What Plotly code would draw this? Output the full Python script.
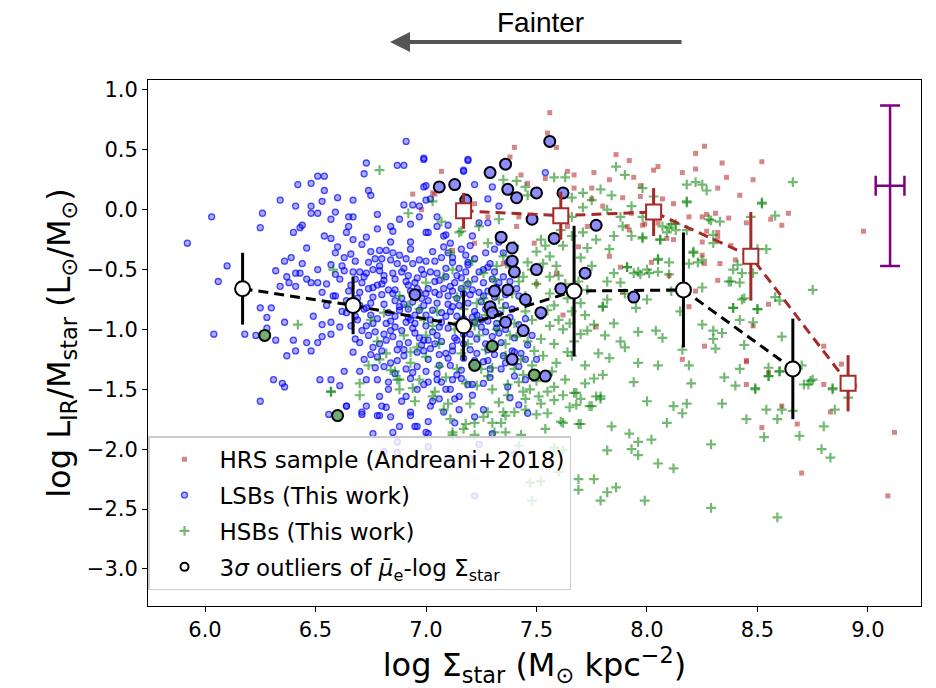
import plotly.graph_objects as go

# ---------------- data ----------------
hrs_pts = [
(7.56,0.81),(7.55,0.64),(7.59,0.52),(7.40,0.52),(7.38,0.44),(7.07,0.32),(7.43,0.29),(7.54,0.26),
(7.64,0.32),(7.67,0.29),(7.76,0.31),(7.83,0.25),(7.92,0.41),(7.94,0.27),(8.03,0.33),(8.05,0.36),
(8.16,0.31),(8.22,0.47),(8.26,0.53),(8.22,0.34),(8.34,0.39),(8.36,0.27),(8.32,0.18),(8.48,0.25),
(7.22,0.05),(7.28,-0.06),(7.46,0.22),(7.67,0.18),(7.75,0.18),(7.75,0.09),(7.89,0.10),(7.97,0.20),
(7.97,0.11),(7.80,0.03),(7.93,-0.03),(7.99,-0.12),(8.05,-0.11),(8.19,-0.06),(8.25,-0.06),(8.27,-0.04),
(8.31,-0.03),(8.37,-0.07),(8.32,-0.19),(8.25,-0.38),(8.26,-0.45),(8.33,-0.45),(8.45,-0.11),(8.32,-0.59),
(8.19,-0.81),(7.22,-0.28),(7.12,-0.34),(7.49,-0.28),(7.41,-0.14),(7.42,-0.06),(7.69,-0.31),(7.73,-0.14),
(7.91,-0.14),(7.88,-0.48),(8.02,-0.44),(7.59,-0.53),(7.64,-0.14),(7.62,-0.88),(7.83,-0.39),(8.07,0.09),
(8.64,-0.03),(8.61,-0.13),(8.27,-0.18),(8.32,-0.23),(8.25,-0.27),(8.09,-0.24),(8.12,-0.25),(8.40,-0.42),
(8.22,-0.68),(7.89,-0.69),(7.98,-0.13),(7.92,-0.17),(8.98,-0.18),(8.55,-0.79),(8.48,-0.97),(8.80,-1.14),
(8.45,-1.27),(8.55,-1.36),(8.80,-1.46),(8.88,-1.29),(8.94,-1.47),(7.77,-0.98),(8.26,-1.14),(8.16,-1.25),
(8.45,-1.26),(8.45,-1.46),(8.61,-1.64),(8.83,-1.69),(8.52,-1.82),(8.68,-1.79),(8.70,-2.20),(9.09,-2.39),
(9.12,-1.86),(6.94,0.13),(7.04,0.13),(6.98,0.00),(7.03,0.14),(8.52,0.40),(8.42,0.12),(7.35,-0.45),
(7.50,-0.62),(8.10,-0.55),(8.38,-0.30),(8.56,-0.08),(7.86,0.46),(8.12,0.05),
]

lsb_pts = [
# sparse envelope
(5.92,-0.28),(6.03,-0.06),(6.10,-0.47),(6.06,-0.60),(6.26,-0.03),(6.25,-0.15),(6.34,0.08),(6.42,0.21),
(6.48,0.22),(6.51,0.28),(6.54,0.28),(6.54,0.16),(6.53,0.07),(6.41,0.03),(6.48,0.03),(6.48,-0.03),
(6.51,-0.03),(6.43,-0.15),(6.44,-0.13),(6.40,-0.19),(6.60,0.10),(6.59,-0.02),(6.57,-0.08),(6.65,-0.06),
(6.67,-0.06),(6.67,0.08),(6.74,0.16),(6.75,0.12),(6.72,0.30),(6.73,0.39),(6.87,0.37),(6.90,0.37),
(6.99,0.42),(6.91,0.57),(6.54,-0.22),(6.57,-0.24),(6.64,-0.19),(6.65,-0.14),(6.67,-0.25),(6.73,-0.23),
(6.78,-0.04),(6.78,-0.16),(6.84,-0.14),(6.85,-0.18),(6.88,-0.08),(6.93,-0.12),(6.90,0.04),(6.94,0.04),
(6.97,-0.06),(6.97,0.03),(7.00,0.08),(6.99,0.19),(7.02,0.09),(7.01,-0.19),(6.84,-0.27),(6.93,-0.33),
(6.79,-0.34),(6.59,-0.36),(6.46,-0.32),(6.39,-0.40),(6.36,-0.43),(6.44,-0.45),(6.32,-0.51),(6.41,-0.53),
(6.43,-0.53),(6.37,-0.56),(6.46,-0.58),(6.34,-0.64),(6.38,-0.61),(6.41,-0.64),(6.48,-0.61),(6.51,-0.50),
(6.51,-0.61),(6.55,-0.62),(6.25,-0.82),(6.30,-0.82),(6.59,-0.72),(6.53,-0.69),
(6.04,-1.04),(6.18,-1.04),(6.23,-1.05),(6.28,-0.99),(6.28,-0.90),(6.32,-1.09),(6.36,-0.94),(6.40,-1.09),
(6.37,-1.22),(6.41,-1.18),(6.31,-1.42),(6.35,-1.45),(6.36,-1.48),(6.25,-1.60),(6.46,-1.11),(6.48,-1.18),
(6.51,-1.11),(6.52,-1.42),(6.57,-1.42),(6.61,-1.47),(6.56,-1.71),(6.49,-0.89),(6.53,-0.96),(6.57,-0.94),
(6.57,-1.04),(6.53,-1.06),(6.63,-1.35),(6.64,-1.64),(6.70,-1.35),(6.73,-1.42),(6.71,-1.69),(6.73,-1.64),
(6.78,-1.42),(6.79,-1.56),(6.79,-1.72),(6.82,-1.65),(6.85,-1.86),(6.83,-1.50),(6.91,-1.56),(6.95,-1.81),
(6.93,-1.72),(7.00,-1.86),(7.01,-1.77),
(7.17,0.33),(7.19,0.42),(6.99,0.43),(7.00,0.20),(7.05,-0.06),(7.09,-0.21),(7.00,-0.19),(7.05,-0.14),
(7.19,0.41),(7.17,0.32),(7.54,0.31),(7.30,0.19),(7.28,0.09),(7.33,0.03),(7.22,0.21),(7.10,-0.13),
(7.21,-0.22),(7.24,-0.11),(7.28,-0.11),(7.35,-0.36),(7.31,-0.33),(7.28,-0.48),(7.18,-0.38),(7.08,-0.22),
(7.11,-0.28),(7.12,-0.44),(7.19,-0.44),(7.26,-0.50),
(6.76,-1.87),(7.01,-1.87),(6.84,-1.73),(6.88,-1.81),(6.96,-1.81),(6.93,-1.69),(6.71,-1.71),(6.64,-1.64),
(6.78,-1.72),(6.80,-1.64),(7.02,-1.64),(7.06,-1.58),(7.13,-1.78),(7.09,-1.50),(7.15,-1.56),(7.19,-1.46),
(7.12,-1.42),(7.05,-1.42),(6.99,-1.46),(6.81,-2.02),(6.87,-2.03),(7.01,-1.98),(7.10,-2.09),(7.20,-2.08),
(7.22,-2.39),(6.87,-1.94),(7.30,-1.87),(7.40,-2.04),(7.24,-1.96),(7.13,-1.58),(7.15,-1.67),(7.38,-1.57),
(7.42,-1.63),(7.46,-1.70),(7.22,-1.73),(7.08,-1.69),(7.26,-1.67),(7.40,-1.39),(7.45,-1.25),(7.52,-0.89),
(7.39,-1.18),
# dense core
(6.60,-0.31),(6.66,-0.37),(6.71,-0.29),(6.77,-0.41),(6.82,-0.34),(6.88,-0.38),(6.93,-0.27),(6.97,-0.42),
(7.03,-0.35),(7.08,-0.31),(7.12,-0.40),(7.16,-0.33),(7.22,-0.41),(7.27,-0.36),(7.33,-0.27),(6.57,-0.46),
(6.63,-0.51),(6.68,-0.43),(6.73,-0.53),(6.79,-0.47),(6.84,-0.42),(6.89,-0.52),(6.94,-0.45),(6.99,-0.54),
(7.04,-0.43),(7.09,-0.49),(7.14,-0.55),(7.19,-0.46),(7.24,-0.52),(7.29,-0.45),(7.35,-0.56),(6.61,-0.58),
(6.66,-0.63),(6.72,-0.56),(6.76,-0.65),(6.81,-0.59),(6.86,-0.67),(6.91,-0.60),(6.96,-0.57),(7.01,-0.66),
(7.06,-0.59),(7.11,-0.64),(7.16,-0.57),(7.21,-0.67),(7.26,-0.61),(7.32,-0.65),(7.38,-0.60),(6.58,-0.72),
(6.64,-0.76),(6.70,-0.69),(6.75,-0.78),(6.80,-0.71),(6.85,-0.70),(6.90,-0.79),(6.95,-0.73),(7.00,-0.70),
(7.05,-0.78),(7.10,-0.72),(7.15,-0.80),(7.20,-0.71),(7.25,-0.77),(7.31,-0.73),(7.36,-0.80),(7.42,-0.72),
(6.62,-0.85),(6.68,-0.89),(6.73,-0.82),(6.78,-0.91),(6.83,-0.86),(6.88,-0.81),(6.92,-0.90),(6.97,-0.84),
(7.02,-0.92),(7.07,-0.86),(7.12,-0.81),(7.17,-0.91),(7.22,-0.85),(7.28,-0.93),(7.33,-0.87),(7.39,-0.83),
(7.45,-0.91),(6.66,-0.97),(6.71,-1.01),(6.76,-0.95),(6.81,-1.04),(6.86,-0.98),(6.91,-0.94),(6.95,-1.03),
(7.00,-0.97),(7.05,-1.05),(7.10,-0.99),(7.15,-0.95),(7.20,-1.04),(7.25,-0.98),(7.30,-1.06),(7.36,-1.00),
(7.42,-0.96),(7.48,-1.05),(6.70,-1.11),(6.76,-1.15),(6.82,-1.09),(6.87,-1.17),(6.92,-1.11),(6.97,-1.07),
(7.02,-1.16),(7.07,-1.10),(7.12,-1.18),(7.17,-1.12),(7.23,-1.08),(7.28,-1.17),(7.34,-1.11),(7.40,-1.19),
(7.46,-1.13),(6.78,-1.23),(6.84,-1.28),(6.90,-1.22),(6.96,-1.31),(7.01,-1.25),(7.06,-1.21),(7.11,-1.30),
(7.17,-1.24),(7.22,-1.32),(7.28,-1.26),(7.35,-1.22),(7.42,-1.31),(7.50,-1.25),(6.86,-1.37),(6.93,-1.41),
(7.00,-1.35),(7.07,-1.44),(7.14,-1.38),(7.21,-1.46),(7.29,-1.40),(7.37,-1.48),(7.45,-1.42),
(6.63,-0.40),(6.70,-0.52),(6.75,-0.35),(6.81,-0.55),(6.87,-0.45),(6.92,-0.63),(6.98,-0.50),(7.04,-0.69),
(7.09,-0.56),(7.14,-0.74),(7.19,-0.62),(7.23,-0.88),(7.28,-0.68),(7.32,-0.95),(6.65,-0.68),(6.72,-0.83),
(6.78,-0.63),(6.84,-0.93),(6.89,-0.74),(6.94,-0.99),(6.99,-0.80),(7.04,-1.12),(7.09,-0.89),(7.13,-1.07),
(7.18,-0.98),(7.23,-1.20),(7.27,-1.02),(7.31,-1.21),(6.69,-0.92),(6.74,-1.05),(6.80,-1.18),(6.85,-1.06),
(6.91,-1.33),(6.96,-1.19),(7.01,-1.44),(7.06,-1.30),(7.11,-1.50),(7.16,-1.34),(7.21,-1.55),(7.26,-1.45),
(6.59,-0.54),(6.55,-0.80),(6.61,-0.98),(6.67,-1.19),(6.72,-1.25),(6.77,-1.32),(6.83,-1.44),(6.89,-1.60),
(6.96,-1.50),(7.03,-1.60),(7.34,-1.33),(7.40,-1.07),(7.46,-0.78),(7.41,-0.66),(7.37,-0.44),(7.31,-0.52),
(6.95,-0.88),(7.01,-0.76),(6.93,-0.68),(7.07,-0.94),(6.86,-0.89),(7.12,-0.68),(6.99,-1.09),(6.89,-1.01),
(6.62,-0.47),(6.68,-0.58),(6.74,-0.44),(6.80,-0.62),(6.85,-0.53),(6.91,-0.41),(6.96,-0.66),(7.02,-0.52),
(7.07,-0.40),(7.13,-0.61),(7.18,-0.52),(7.24,-0.69),(7.30,-0.58),(7.36,-0.71),(6.64,-0.86),(6.69,-0.74),
(6.75,-0.88),(6.81,-0.79),(6.86,-0.58),(6.92,-0.83),(6.97,-0.69),(7.03,-0.84),(7.08,-0.66),(7.14,-0.89),
(7.19,-0.78),(7.25,-0.92),(7.30,-0.80),(7.35,-0.94),(6.68,-1.08),(6.73,-0.97),(6.79,-1.12),(6.84,-1.01),
(6.90,-1.17),(6.95,-0.95),(7.01,-1.09),(7.06,-0.98),(7.12,-1.14),(7.17,-1.04),(7.22,-0.94),(7.27,-1.12),
(7.33,-1.03),(7.38,-0.90),(6.75,-1.21),(6.81,-1.31),(6.87,-1.26),(6.94,-1.36),(6.99,-1.18),(7.05,-1.37),
(7.10,-1.24),(7.16,-1.41),(7.22,-1.26),(7.29,-1.33),(7.36,-1.28),(7.43,-1.20),(6.71,-0.61),(6.76,-0.73),
(6.83,-0.67),(6.88,-0.84),(6.94,-0.77),(7.00,-0.88),(7.06,-0.71),(7.11,-0.85),(7.17,-0.70),(7.22,-0.58),
(7.27,-0.83),(7.33,-0.61),(6.67,-0.52),(6.74,-0.66),(6.79,-0.51),(6.86,-0.76),(6.92,-0.55),(6.98,-0.74),
(7.04,-0.60),(7.10,-0.79),(7.16,-0.66),(7.21,-0.90),(7.26,-0.72),(7.32,-0.99),(6.70,-0.80),(6.77,-1.02),
(6.82,-0.95),(6.88,-1.12),(6.93,-0.92),(6.98,-1.13),(7.03,-1.02),(7.09,-1.20),(7.14,-1.09),(7.20,-1.17),
(7.26,-1.27),(7.31,-1.14),(6.90,-0.49),(6.95,-0.61),(7.00,-0.43),(7.05,-0.53),(7.10,-0.36),(7.15,-0.49),
(7.20,-0.30),(6.85,-0.36),(6.80,-0.41),(6.76,-0.50),
]

hsb_pts = [
(7.80,-0.81),(7.95,-0.82),(7.76,-0.96),(7.73,-1.01),(7.70,-1.04),(7.81,-1.05),(7.88,-1.10),(7.96,-1.02),
(8.04,-1.01),(8.07,-1.07),(7.64,-1.19),(7.83,-1.24),(7.96,-1.28),(8.16,-1.17),(8.19,-1.30),(8.25,-0.96),
(8.30,-1.01),(8.30,-1.08),(8.31,-1.16),(8.34,-1.03),(8.39,-0.82),(8.42,-0.92),(8.44,-1.13),(8.50,-0.83),
(8.42,-1.33),(8.40,-1.47),(8.49,-1.49),(8.55,-1.39),(8.60,-1.35),(8.61,-1.06),(8.70,-1.30),(8.73,-1.46),
(8.75,-1.42),(8.84,-1.49),(8.85,-1.67),(8.91,-1.57),(8.66,-1.68),(8.54,-1.67),(8.59,-1.75),(8.61,-1.67),
(8.45,-1.75),(8.34,-1.62),(8.53,-1.90),(8.69,-1.89),(8.80,-1.81),(8.79,-2.00),(8.83,-2.07),(8.29,-1.96),
(8.29,-2.49),(8.59,-2.57),(7.94,-1.44),(8.00,-1.60),(8.12,-1.64),(8.16,-1.70),(8.18,-1.62),(8.09,-1.78),
(7.92,-1.87),(7.96,-1.94),(8.02,-1.92),(7.93,-2.00),(7.96,-2.05),(7.82,-2.01),(7.84,-1.81),(7.76,-1.41),
(7.77,-1.56),(7.79,-1.58),(7.75,-1.64),(7.68,-1.53),(7.68,-1.63),(7.70,-1.79),(7.62,-1.78),(8.05,-2.12),
(8.12,-2.16),(7.76,-2.25),(7.86,-2.32),(7.82,-2.36),(7.79,-2.43),(7.99,-2.43),(7.67,-1.53),(7.74,-1.64),
(7.79,-1.56),(7.61,-1.77),(7.69,-1.79),(7.58,-1.99),(7.62,-2.01),(7.58,-1.59),(7.54,-1.83),(7.43,-1.88),
(7.36,-1.86),(7.30,-1.78),(7.22,-1.88),(7.42,-1.97),(7.50,-1.71),(7.45,-1.67),(7.40,-1.69),(7.35,-1.69),
(7.26,-1.73),(7.18,-1.79),(7.12,-1.86),(7.55,-1.52),(7.51,-1.56),(7.44,-1.52),(7.47,-2.28),(7.52,-2.27),
(7.48,-2.43),(7.69,-2.25),(7.69,-2.34),(7.60,-2.19),
(7.86,0.36),(7.90,0.29),(7.79,0.17),(7.84,0.12),(7.58,0.27),(7.63,0.27),(7.66,0.10),(7.71,0.14),
(7.75,0.08),(7.71,0.02),(7.82,0.00),(7.35,0.25),(7.41,0.24),(7.45,0.19),(7.46,0.12),(7.93,0.03),
(7.98,-0.06),(7.88,-0.06),(7.89,-0.14),(7.85,-0.22),(7.93,-0.22),(7.98,-0.24),(8.06,-0.25),(8.10,-0.15),
(8.13,-0.12),(8.18,-0.17),(8.18,0.06),(8.22,0.23),(8.18,0.21),(8.27,0.16),(8.25,0.21),(8.28,-0.08),
(8.33,-0.10),(8.30,-0.21),(8.21,-0.35),(8.19,-0.45),(8.25,-0.42),(8.38,-0.60),(8.42,-0.61),(8.39,-0.50),
(8.48,-0.53),(8.39,-0.82),(8.43,-0.75),(7.83,-0.33),(7.91,-0.48),(7.96,-0.52),(8.01,-0.53),(8.05,-0.42),
(8.10,-0.44),(7.85,-0.53),(7.75,-0.47),(7.77,-0.25),(7.71,-0.19),(7.66,-0.22),(7.61,-0.17),(7.66,-0.06),
(7.82,-0.60),(7.88,-0.61),(7.82,-0.75),(7.80,-0.81),(7.70,-0.40),(7.73,-0.32),(7.52,-0.25),(7.50,-0.35),
(7.46,-0.44),(7.56,-0.39),(7.59,-0.47),(7.56,-0.56),(7.44,-0.56),(7.35,-0.39),(7.32,-0.47),(7.26,-0.53),
(7.21,-0.43),(7.11,-0.36),(7.15,-0.19),(7.24,-0.14),(7.33,-0.08),(7.73,-0.67),(7.44,-0.75),(7.33,-0.75),
(7.23,-0.78),(7.17,-0.83),(6.79,0.33),(6.92,-0.03),(7.07,-0.10),(7.16,-0.18),(7.03,0.07),(6.58,-0.50),
(6.42,-0.96),(6.57,-1.52),(8.66,0.23),(8.52,0.05),(8.58,-0.05),(8.54,-0.33),(8.75,-0.67),(8.44,-0.74),
(8.58,-0.73),(8.60,-0.76),(8.50,-0.83),(8.47,-0.06),(8.43,-0.53),(8.48,-0.94),(8.55,-1.32),(8.60,-1.35),
(8.55,-1.39),(8.49,-1.50),(8.71,-1.46),(8.74,-1.43),(8.84,-1.50),(7.98,0.18),(8.03,0.11),(8.18,0.07),
(8.52,0.06),(8.29,-0.09),(8.07,-0.14),(8.11,-0.12),(8.09,-0.19),(8.13,-0.17),(8.06,-0.25),(7.98,-0.23),
(8.30,-0.28),(8.21,-0.36),(8.23,-0.44),(8.41,-0.46),(8.50,-0.33),(8.05,-0.41),(8.05,-0.52),(8.00,-0.50),
(8.10,-0.54),(7.91,-0.48),(7.94,-0.53),(7.97,-0.54),(8.37,-0.60),(8.25,-0.65),(8.11,-0.68),
(6.57,-1.52),(6.70,-1.55),(6.88,-1.42),(6.94,-1.49),(6.84,-1.34),(7.03,-1.56),(7.08,-1.67),(7.11,-1.75),
(7.17,-1.83),(7.12,-1.88),(7.22,-1.78),(7.28,-1.69),(7.33,-1.61),(7.34,-1.78),(7.31,-1.86),(7.23,-1.47),
(7.28,-1.39),(7.37,-1.46),(7.40,-1.33),(7.41,-1.06),(7.32,-1.00),(7.27,-1.17),(7.23,-0.92),(7.14,-1.33),
(7.06,-1.31),(7.00,-1.23),(6.93,-1.19),(6.87,-1.42),(6.79,-1.25),(6.75,-0.92),(6.81,-0.86),(6.88,-0.72),
(7.00,-0.61),(7.08,-0.56),(7.14,-0.73),(7.19,-0.61),(7.13,-1.00),(7.03,-0.97),(6.97,-0.83),
(7.38,-0.48),(7.45,-0.72),(7.50,-0.62),(7.52,-1.08),(7.55,-0.84),(7.57,-1.35),(7.60,-0.55),(7.62,-1.00),
(7.64,-0.74),(7.66,-1.22),(7.69,-0.60),(7.72,-0.88),(7.47,-1.50),(7.43,-1.25),(7.40,-0.95),(7.36,-1.12),
(7.30,-1.32),(7.24,-1.05),(7.27,-0.88),(7.18,-1.45),(7.48,-0.92),(7.53,-1.22),(7.58,-1.12),(7.46,-1.10),
(7.35,-0.82),(7.39,-0.70),(7.44,-1.38),(7.50,-1.43),(7.56,-0.70),(7.60,-0.92),(7.63,-1.42),(7.66,-0.85),
(6.82,-1.20),(6.86,-1.35),(6.90,-1.05),(6.93,-1.28),(6.97,-1.42),(6.99,-0.92),(6.88,-1.50),(6.95,-1.60),
(7.04,-1.52),(7.10,-1.62),(6.78,-1.10),(6.74,-1.30),(6.70,-1.45),(7.06,-1.12),(7.16,-1.20),(7.20,-1.62),
(8.20,-1.45),(8.35,-1.40),(8.05,-1.30),(7.90,-1.15),(8.15,-0.85),(8.00,-0.75),
(7.12,-0.50),(7.17,-0.66),(7.22,-0.97),(7.26,-0.74),(7.31,-0.58),(7.34,-0.93),(7.38,-1.05),(7.42,-0.60),
(7.45,-0.85),(7.49,-1.18),(7.53,-0.45),(7.56,-0.97),(7.59,-1.28),(7.63,-0.62),(7.67,-1.10),(7.70,-0.78),
(7.72,-1.30),(7.58,-1.48),(7.52,-1.62),(7.45,-1.58),(7.37,-1.55),(7.30,-1.50),(7.25,-1.33),(7.19,-1.12),
(7.15,-0.94),(7.09,-1.40),(7.05,-0.85),(7.00,-1.05),(6.96,-1.15),(6.92,-0.80),(7.48,-0.50),(7.54,-0.30),
(7.62,-0.30),(7.40,-0.30),(7.28,-0.28),(7.36,-1.22),(7.42,-1.44),(7.48,-1.30),(7.62,-1.55),(7.55,-1.70),
(7.65,-1.65),(7.72,-1.45),(7.78,-1.20),(7.85,-0.95),(7.90,-0.70),(7.58,-0.80),(7.65,-0.95),(7.70,-1.58),
(7.80,-1.38),(7.36,-1.72),
]

# 3-sigma outliers (split by underlying sample)
out_lsb_pts = [
(7.56,0.57),(7.36,0.38),(7.29,0.31),(7.13,0.21),(7.18,0.08),(7.37,0.17),(7.41,0.10),(7.50,0.14),
(7.62,0.14),(7.48,-0.08),(7.58,-0.24),(7.77,-0.13),(7.34,-0.23),(7.39,-0.32),(7.39,-0.43),(7.40,-0.52),
(7.50,-0.50),(7.72,-0.53),(7.31,-0.68),(7.37,-0.67),(7.61,-0.66),(7.45,-0.75),(7.94,-0.73),(7.29,-0.81),
(7.52,-0.86),(7.06,0.19),(6.95,-0.71),(7.30,-0.86),(7.36,-0.94),(7.44,-1.01),(7.39,-1.25),(7.54,-1.39),
]
out_hsb_pts = [(6.27,-1.05),(6.60,-1.72),(7.49,-1.38),(7.30,-1.14),(7.22,-1.30)]

# binned medians
bin_x = [6.17, 6.67, 7.17, 7.67, 8.165, 8.66]
bin_y = [-0.66, -0.80, -0.97, -0.68, -0.67, -1.33]
bin_err = [0.30, 0.24, 0.29, 0.545, 0.48, 0.42]

hrs_bin_x = [7.17, 7.61, 8.03, 8.47, 8.91]
hrs_bin_y = [-0.01, -0.05, -0.02, -0.39, -1.45]
hrs_bin_err = [0.15, 0.20, 0.20, 0.37, 0.235]

# typical uncertainty
typ_x = [9.10]
typ_y = [0.20]
typ_ex = [0.065]
typ_ey = [0.67]

x_ticks = [6.0, 6.5, 7.0, 7.5, 8.0, 8.5, 9.0]
y_ticks = [1.0, 0.5, 0.0, -0.5, -1.0, -1.5, -2.0, -2.5, -3.0]

legend_labels = ["HRS sample (Andreani+2018)", "LSBs (This work)", "HSBs (This work)",
                 "3<i>σ</i> outliers of <i>μ̄</i><sub>e</sub>-log Σ<sub>star</sub>"]


def xs(p):
    return [a for a, b in p]


def ys(p):
    return [b for a, b in p]


FONT = "DejaVu Sans"
fig = go.Figure()

fig.add_trace(go.Scatter(
    x=xs(hrs_pts), y=ys(hrs_pts), mode="markers", name=legend_labels[0], legendgroup="g1",
    marker=dict(symbol="square", size=5, color="rgba(178,34,34,0.55)", line=dict(width=0))))
fig.add_trace(go.Scatter(
    x=xs(lsb_pts), y=ys(lsb_pts), mode="markers", name=legend_labels[1], legendgroup="g2",
    marker=dict(symbol="circle", size=6, color="rgba(0,0,255,0.33)",
                line=dict(width=1.3, color="rgba(0,0,255,0.7)"))))
fig.add_trace(go.Scatter(
    x=xs(hsb_pts), y=ys(hsb_pts), mode="markers", name=legend_labels[2], legendgroup="g3",
    marker=dict(symbol="cross-thin", size=7, color="rgba(0,128,0,0.55)",
                line=dict(width=2.2, color="rgba(0,128,0,0.55)"))))
fig.add_trace(go.Scatter(
    x=xs(out_lsb_pts), y=ys(out_lsb_pts), mode="markers", showlegend=False,
    marker=dict(symbol="circle", size=11, color="rgba(130,130,255,0.9)",
                line=dict(width=2, color="black"))))
fig.add_trace(go.Scatter(
    x=xs(out_hsb_pts), y=ys(out_hsb_pts), mode="markers", showlegend=False,
    marker=dict(symbol="circle", size=11, color="rgba(100,165,100,0.9)",
                line=dict(width=2, color="black"))))
# legend-only entry for the outliers (open black circle)
fig.add_trace(go.Scatter(
    x=[None], y=[None], mode="markers", name=legend_labels[3], legendgroup="g4",
    marker=dict(symbol="circle-open", size=8, color="black", line=dict(width=2, color="black"))))

fig.add_trace(go.Scatter(
    x=hrs_bin_x, y=hrs_bin_y, mode="lines+markers", showlegend=False,
    line=dict(color="#a52a2a", width=3, dash="10px,6px"),
    error_y=dict(type="data", array=hrs_bin_err, color="#a52a2a", thickness=3, width=0),
    marker=dict(symbol="square", size=15, color="white", line=dict(width=2, color="#a52a2a"))))
fig.add_trace(go.Scatter(
    x=bin_x, y=bin_y, mode="lines+markers", showlegend=False,
    line=dict(color="black", width=3, dash="10px,6px"),
    error_y=dict(type="data", array=bin_err, color="black", thickness=3, width=0),
    marker=dict(symbol="circle", size=15, color="white", line=dict(width=2, color="black"))))
fig.add_trace(go.Scatter(
    x=typ_x, y=typ_y, mode="markers", showlegend=False,
    marker=dict(size=1, color="purple"),
    error_y=dict(type="data", array=typ_ey, color="purple", thickness=2.5, width=10),
    error_x=dict(type="data", array=typ_ex, color="purple", thickness=2.5, width=10)))

axis_common = dict(showline=True, mirror=True, linecolor="black", linewidth=1,
                   ticks="outside", ticklen=5, tickwidth=1, tickcolor="black",
                   showgrid=False, zeroline=False,
                   tickfont=dict(family=FONT, size=21, color="black"))

fig.update_layout(
    width=936, height=688,
    margin=dict(l=148, r=15, t=80, b=82),
    paper_bgcolor="white", plot_bgcolor="white",
    xaxis=dict(range=[5.742, 9.24], tickvals=x_ticks, ticktext=[f"{v:.1f}" for v in x_ticks],
               title=dict(text="log Σ<sub>star</sub> (M<sub>⊙</sub> kpc<sup>−2</sup>)",
                          font=dict(family=FONT, size=32, color="black"), standoff=4),
               **axis_common),
    yaxis=dict(range=[-3.31, 1.083], tickvals=y_ticks,
               ticktext=[f"{v:.1f}".replace("-", "−") for v in y_ticks],
               title=dict(text="log L<sub>IR</sub>/M<sub>star</sub> (L<sub>⊙</sub>/M<sub>⊙</sub>)",
                          font=dict(family=FONT, size=32, color="black"), standoff=6),
               **axis_common),
    legend=dict(x=0.0, y=0.03, xanchor="left", yanchor="bottom",
                bgcolor="rgba(255,255,255,0.8)", bordercolor="#cccccc", borderwidth=1.5,
                font=dict(family=FONT, size=23, color="black"), itemsizing="trace",
                itemwidth=60, tracegroupgap=3),
    showlegend=True,
)

fig.add_annotation(xref="paper", yref="paper", x=(540 - 148) / 773, y=1.110, text="Fainter",
                   showarrow=False, font=dict(family="Liberation Sans Narrow, Liberation Sans", size=28, color="black"),
                   xanchor="center", yanchor="middle")
fig.add_annotation(xref="paper", yref="paper", x=(390 - 148) / 773, y=(606 - 42) / 526,
                   ax=293, ay=0, text="", showarrow=True, arrowhead=2, arrowsize=1,
                   arrowwidth=4, arrowcolor="#555555")

fig.write_html("out.html")
